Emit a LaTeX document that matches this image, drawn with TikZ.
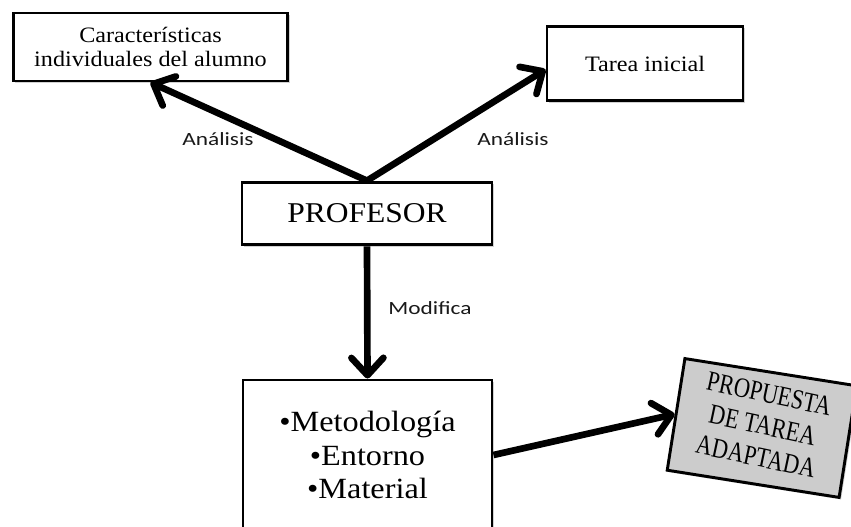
\documentclass[tikz,border=0pt]{standalone}
\usepackage{fontspec}
\setmainfont{Liberation Serif}
\newfontfamily\labelfont{Carlito}
\usetikzlibrary{arrows.meta,shadows}
\newcommand{\sx}[1]{\scalebox{1.1}[1]{#1}}
\newcommand{\lx}[1]{\scalebox{1.25}[1]{#1}}
\newcommand{\gx}[1]{\scalebox{0.8}[1]{#1}}
\tikzset{
  boxnode/.style={draw=black, line width=2.2pt, fill=white, inner sep=0pt, align=center,
    drop shadow={shadow xshift=1.5pt, shadow yshift=-1.5pt, opacity=0.35}},
  bigarrow/.style={line width=5pt, -{Straight Barb[round,length=13pt,width=24pt]}},
  lbl/.style={font=\labelfont\fontsize{14}{16}\selectfont, text=black!90}
}
\begin{document}
\begin{tikzpicture}[x=0.75pt,y=-0.75pt]
\useasboundingbox (0,0) rectangle (851,527);
\clip (0,0) rectangle (851,527);
\fill[white] (0,0) rectangle (851,527);

\node[boxnode, minimum width=206pt, minimum height=51pt, font=\fontsize{16.5}{18.5}\selectfont]
  (alumno) at (150.5,47) {\sx{Características}\\\sx{individuales del alumno}};
\node[boxnode, minimum width=147pt, minimum height=56pt, font=\fontsize{16.5}{18.5}\selectfont]
  (tarea) at (645,63.5) {\sx{Tarea inicial}};
\node[boxnode, minimum width=187.5pt, minimum height=47pt, font=\fontsize{21.5}{24}\selectfont]
  (prof) at (367,213.5) {\sx{PROFESOR}};
\node[boxnode, minimum width=186.75pt, minimum height=112.5pt, font=\fontsize{22}{25}\selectfont]
  (meto) at (367.5,455) {\sx{•Metodología}\\\sx{•Entorno}\\\sx{•Material}};
\node[boxnode, fill=gray!40, minimum width=130.5pt, minimum height=84.75pt, rotate=-9,
  font=\fontsize{21}{24}\selectfont]
  (prop) at (762,428) {\rotatebox{-3}{\begin{tabular}{@{}c@{}}\gx{PROPUESTA}\\\gx{DE TAREA}\\\gx{ADAPTADA}\end{tabular}}};

\draw[bigarrow] (prof.north) -- (alumno.south);
\draw[bigarrow] (prof.north) -- ([yshift=-4.5pt]tarea.west);
\draw[bigarrow] (prof.south) -- (meto.north);
\draw[bigarrow] (meto.east) -- (prop.west);

\node[lbl] (l1) at (218,139) {\lx{Análisis}};
\node[lbl] (l2) at (513,139) {\lx{Análisis}};
\node[lbl] (l3) at (430,308) {\lx{Modifica}};
\end{tikzpicture}
\end{document}
